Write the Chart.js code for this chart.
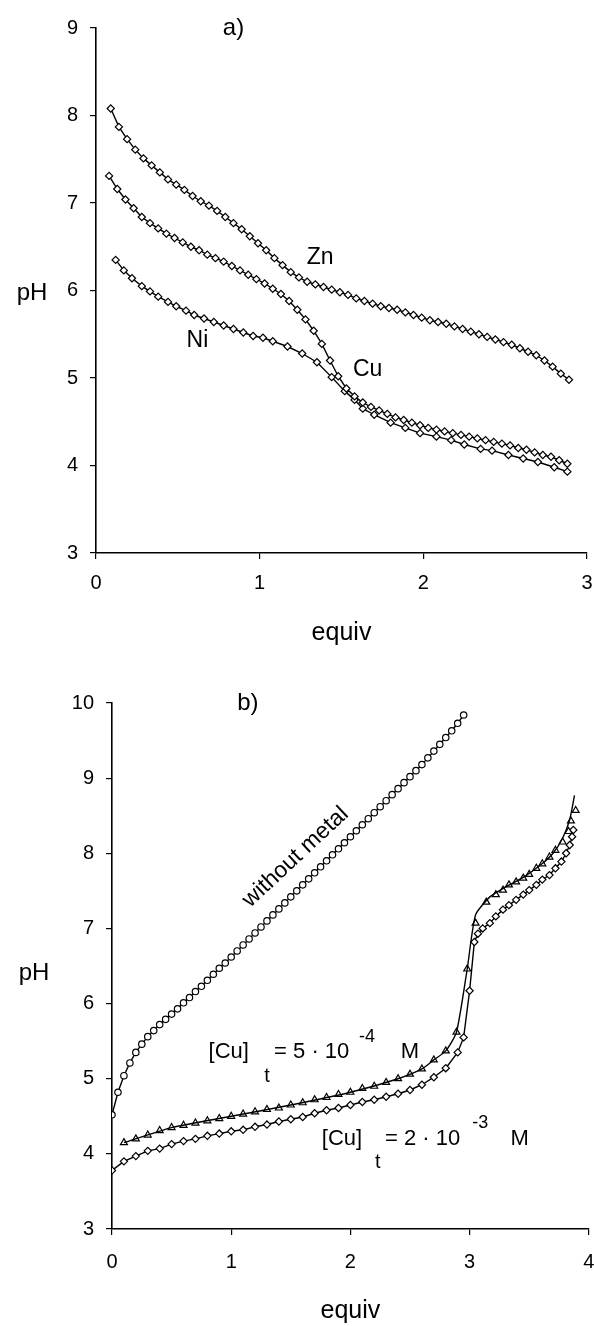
<!DOCTYPE html>
<html>
<head>
<meta charset="utf-8">
<script src="https://cdn.jsdelivr.net/npm/chart.js@4.4.1/dist/chart.umd.min.js"></script>
<style>
  html, body { margin: 0; padding: 0; background: #fff; }
  #page { position: relative; width: 594px; height: 1326px; }
  .panel { position: absolute; left: 0; width: 594px; }
  #panelA { top: 0; height: 660px; }
  #panelB { top: 660px; height: 666px; }
</style>
</head>
<body>
<div id="page">
  <div class="panel" id="panelA"><canvas id="chartA"></canvas></div>
  <div class="panel" id="panelB"><canvas id="chartB"></canvas></div>
</div>
<script>
/* pH titration curves: a) M(II) complexes, b) Cu(II) at two concentrations */
const FONT = '"Liberation Sans", Arial, Helvetica, sans-serif';

// ---- panel a ----
const A_X_TICKS = [0, 1, 2, 3];
const A_Y_TICKS = [3, 4, 5, 6, 7, 8, 9];

const EQ_ZN = [0.09, 0.14, 0.19, 0.24, 0.29, 0.34, 0.39, 0.44, 0.49, 0.54, 0.59, 0.64, 0.69, 0.74, 0.79,
  0.84, 0.89, 0.94, 0.99, 1.04, 1.09, 1.14, 1.19, 1.24, 1.29, 1.34, 1.39, 1.44, 1.49, 1.54, 1.59, 1.64,
  1.69, 1.74, 1.79, 1.84, 1.89, 1.94, 1.99, 2.04, 2.09, 2.14, 2.19, 2.24, 2.29, 2.34, 2.39, 2.44, 2.49,
  2.54, 2.59, 2.64, 2.69, 2.74, 2.79, 2.84, 2.89];
const PH_ZN = [8.08, 7.87, 7.73, 7.61, 7.51, 7.43, 7.35, 7.27, 7.21, 7.15, 7.08, 7.02, 6.97, 6.91, 6.84,
  6.77, 6.70, 6.62, 6.54, 6.46, 6.37, 6.29, 6.21, 6.15, 6.10, 6.07, 6.04, 6.01, 5.98, 5.95, 5.91, 5.88,
  5.85, 5.82, 5.80, 5.78, 5.75, 5.72, 5.69, 5.66, 5.64, 5.62, 5.59, 5.56, 5.53, 5.50, 5.47, 5.44, 5.41,
  5.38, 5.34, 5.30, 5.26, 5.20, 5.13, 5.05, 4.98];

const EQ_CU = [0.08, 0.13, 0.18, 0.23, 0.28, 0.33, 0.38, 0.43, 0.48, 0.53, 0.58, 0.63, 0.68, 0.73, 0.78,
  0.83, 0.88, 0.93, 0.98, 1.03, 1.08, 1.13, 1.18, 1.23, 1.28, 1.33, 1.38, 1.43, 1.48, 1.53, 1.58, 1.63,
  1.68, 1.73, 1.78, 1.83, 1.88, 1.93, 1.98, 2.03, 2.08, 2.13, 2.18, 2.23, 2.28, 2.33, 2.38, 2.43, 2.48,
  2.53, 2.58, 2.63, 2.68, 2.73, 2.78, 2.83, 2.88];
const PH_CU = [7.31, 7.16, 7.04, 6.94, 6.84, 6.77, 6.71, 6.65, 6.60, 6.55, 6.50, 6.46, 6.41, 6.37, 6.33,
  6.28, 6.23, 6.18, 6.13, 6.08, 6.02, 5.96, 5.88, 5.78, 5.67, 5.54, 5.39, 5.20, 5.02, 4.88, 4.79, 4.72,
  4.67, 4.63, 4.59, 4.55, 4.52, 4.49, 4.46, 4.43, 4.41, 4.39, 4.37, 4.35, 4.33, 4.31, 4.29, 4.27, 4.25,
  4.23, 4.20, 4.18, 4.15, 4.12, 4.10, 4.06, 4.02];

const EQ_NI = [0.12, 0.17, 0.22, 0.28, 0.33, 0.38, 0.44, 0.49, 0.55, 0.60, 0.66, 0.72, 0.78, 0.84, 0.90,
  0.96, 1.02, 1.08, 1.17, 1.26, 1.35, 1.44, 1.52, 1.58, 1.63, 1.70, 1.80, 1.89, 1.98, 2.08, 2.17, 2.25,
  2.35, 2.42, 2.52, 2.61, 2.70, 2.80, 2.88];
const PH_NI = [6.35, 6.23, 6.14, 6.05, 5.99, 5.93, 5.87, 5.82, 5.77, 5.72, 5.68, 5.64, 5.60, 5.56, 5.52,
  5.48, 5.46, 5.42, 5.36, 5.28, 5.18, 5.01, 4.85, 4.75, 4.65, 4.58, 4.49, 4.43, 4.37, 4.33, 4.29, 4.24,
  4.19, 4.17, 4.12, 4.08, 4.04, 3.98, 3.93];

// ---- panel b ----
const B_X_TICKS = [0, 1, 2, 3, 4];
const B_Y_TICKS = [3, 4, 5, 6, 7, 8, 9, 10];

const EQ_FREE = [0, 0.05, 0.1, 0.15, 0.2, 0.25, 0.3, 0.35, 0.4, 0.45, 0.5, 0.55, 0.6, 0.65, 0.7, 0.75,
  0.8, 0.85, 0.9, 0.95, 1.0, 1.05, 1.1, 1.15, 1.2, 1.25, 1.3, 1.35, 1.4, 1.45, 1.5, 1.55, 1.6, 1.65, 1.7,
  1.75, 1.8, 1.85, 1.9, 1.95, 2.0, 2.05, 2.1, 2.15, 2.2, 2.25, 2.3, 2.35, 2.4, 2.45, 2.5, 2.55, 2.6, 2.65,
  2.7, 2.75, 2.8, 2.85, 2.9, 2.95];
const PH_FREE = [4.52, 4.82, 5.04, 5.21, 5.35, 5.46, 5.56, 5.64, 5.72, 5.79, 5.86, 5.93, 6.01, 6.08, 6.16,
  6.23, 6.31, 6.39, 6.47, 6.54, 6.62, 6.70, 6.78, 6.86, 6.94, 7.02, 7.10, 7.18, 7.26, 7.34, 7.42, 7.50,
  7.58, 7.66, 7.74, 7.82, 7.90, 7.98, 8.06, 8.14, 8.22, 8.30, 8.38, 8.46, 8.54, 8.62, 8.70, 8.78, 8.86,
  8.94, 9.02, 9.10, 9.18, 9.27, 9.36, 9.45, 9.54, 9.63, 9.73, 9.84];

// [Cu]t = 5e-4 M, triangles
const EQ_CU5 = [0.1, 0.2, 0.3, 0.4, 0.5, 0.6, 0.7, 0.8, 0.9, 1.0, 1.1, 1.2, 1.3, 1.4, 1.5, 1.6, 1.7, 1.8,
  1.9, 2.0, 2.1, 2.2, 2.3, 2.4, 2.5, 2.6, 2.7, 2.8, 2.89, 2.98, 3.05, 3.14, 3.22, 3.28, 3.33, 3.39, 3.45,
  3.50, 3.56, 3.61, 3.67, 3.72, 3.78, 3.83, 3.85, 3.89];
const PH_CU5 = [4.15, 4.20, 4.25, 4.31, 4.35, 4.38, 4.41, 4.44, 4.47, 4.50, 4.53, 4.56, 4.59, 4.61, 4.65,
  4.68, 4.72, 4.75, 4.79, 4.82, 4.87, 4.90, 4.95, 5.00, 5.06, 5.13, 5.25, 5.37, 5.62, 6.46, 7.07, 7.35,
  7.45, 7.51, 7.58, 7.62, 7.67, 7.72, 7.80, 7.86, 7.95, 8.04, 8.15, 8.29, 8.43, 8.57];
// fitted curve through the triangles
const EQ_CU5_FIT = [0.1, 0.5, 1.0, 1.5, 2.0, 2.4, 2.6, 2.7, 2.8, 2.89, 2.98, 3.05, 3.17, 3.3, 3.45, 3.6,
  3.7, 3.78, 3.84, 3.88];
const PH_CU5_FIT = [4.15, 4.35, 4.50, 4.65, 4.82, 5.00, 5.13, 5.25, 5.37, 5.62, 6.46, 7.18, 7.42, 7.55,
  7.68, 7.85, 8.00, 8.20, 8.45, 8.77];

// [Cu]t = 2e-3 M, diamonds
const EQ_CU2 = [0, 0.1, 0.2, 0.3, 0.4, 0.5, 0.6, 0.7, 0.8, 0.9, 1.0, 1.1, 1.2, 1.3, 1.4, 1.5, 1.6, 1.7,
  1.8, 1.9, 2.0, 2.1, 2.2, 2.3, 2.4, 2.5, 2.6, 2.7, 2.8, 2.9, 2.95, 3.0, 3.04, 3.07, 3.11, 3.17, 3.22,
  3.28, 3.33, 3.39, 3.45, 3.50, 3.56, 3.61, 3.67, 3.72, 3.77, 3.81, 3.84, 3.86, 3.87];
const PH_CU2 = [3.78, 3.90, 3.97, 4.04, 4.07, 4.13, 4.17, 4.20, 4.24, 4.27, 4.30, 4.32, 4.36, 4.39, 4.43,
  4.46, 4.49, 4.54, 4.58, 4.61, 4.65, 4.69, 4.72, 4.76, 4.80, 4.85, 4.92, 5.02, 5.14, 5.35, 5.55, 6.17,
  6.82, 6.93, 7.00, 7.07, 7.16, 7.25, 7.31, 7.38, 7.45, 7.51, 7.58, 7.65, 7.71, 7.80, 7.89, 8.00, 8.11,
  8.22, 8.31];

function pts(xs, ys) {
  return xs.map((x, i) => ({ x, y: ys[i] }));
}

function markerSet(xs, ys, style, radius) {
  return {
    data: pts(xs, ys),
    showLine: true,
    borderColor: "#000",
    borderWidth: 1.4,
    backgroundColor: "#fff",
    pointStyle: style,
    pointRadius: radius,
    pointBorderWidth: 1.2,
    pointBorderColor: "#000",
    pointBackgroundColor: "#fff",
    tension: 0,
  };
}

function lineSet(xs, ys) {
  return {
    data: pts(xs, ys),
    showLine: true,
    borderColor: "#000",
    borderWidth: 1.4,
    pointRadius: 0,
    tension: 0.2,
  };
}

// text labels placed at data coordinates
const textLabels = {
  id: "textLabels",
  afterDatasetsDraw(chart, args, opts) {
    const { ctx, scales } = chart;
    ctx.save();
    ctx.fillStyle = "#000";
    for (const t of opts.items || []) {
      const px = scales.x.getPixelForValue(t.x);
      const py = scales.y.getPixelForValue(t.y);
      ctx.font = `${t.size || 22}px ${FONT}`;
      ctx.textAlign = t.align || "center";
      ctx.textBaseline = "middle";
      ctx.translate(px, py);
      ctx.rotate(((t.angle || 0) * Math.PI) / 180);
      ctx.fillText(t.text, 0, 0);
      ctx.setTransform(1, 0, 0, 1, 0, 0);
    }
    // "pH" beside the y axis
    if (opts.yTitle) {
      ctx.font = `24px ${FONT}`;
      ctx.textAlign = "center";
      ctx.fillText("pH", opts.yTitle.left, scales.y.getPixelForValue(opts.yTitle.at));
    }
    ctx.restore();
  },
};

function makeChart(id, cfg) {
  return new Chart(document.getElementById(id), {
    type: "scatter",
    data: { datasets: cfg.datasets },
    plugins: [textLabels],
    options: {
      responsive: true,
      maintainAspectRatio: false,
      animation: false,
      events: [],
      layout: { padding: { top: cfg.top, right: cfg.right, left: 0, bottom: 0 } },
      plugins: {
        legend: { display: false },
        tooltip: { enabled: false },
        textLabels: { items: cfg.labels, yTitle: cfg.yTitle },
      },
      scales: {
        x: {
          type: "linear",
          min: cfg.xTicks[0],
          max: cfg.xTicks[cfg.xTicks.length - 1],
          afterBuildTicks: (s) => { s.ticks = cfg.xTicks.map((v) => ({ value: v })); },
          afterFit: (s) => { s.height = cfg.xHeight; s.paddingLeft = 0; s.paddingRight = 0; },
          border: { display: true, color: "#000", width: 1.6 },
          grid: { drawOnChartArea: false, drawTicks: true, tickLength: 6, color: "#000", lineWidth: 1.2 },
          ticks: { color: "#000", padding: cfg.xPad, maxRotation: 0, font: { family: FONT, size: 20 } },
          title: {
            display: true,
            text: "equiv",
            color: "#000",
            font: { family: FONT, size: 25 },
            padding: { top: 0, bottom: cfg.titlePad },
          },
        },
        y: {
          type: "linear",
          min: cfg.yTicks[0],
          max: cfg.yTicks[cfg.yTicks.length - 1],
          afterBuildTicks: (s) => { s.ticks = cfg.yTicks.map((v) => ({ value: v })); },
          afterFit: (s) => { s.width = cfg.yWidth; s.paddingTop = 0; s.paddingBottom = 0; },
          border: { display: true, color: "#000", width: 1.6 },
          grid: { drawOnChartArea: false, drawTicks: true, tickLength: 6, color: "#000", lineWidth: 1.2 },
          ticks: { color: "#000", padding: 12, font: { family: FONT, size: 20 } },
        },
      },
    },
  });
}

makeChart("chartA", {
  top: 28,
  right: 7,
  yWidth: 96,
  xHeight: 107,
  xPad: 12,
  titlePad: 12,
  xTicks: A_X_TICKS,
  yTicks: A_Y_TICKS,
  yTitle: { left: 32, at: 5.97 },
  datasets: [
    markerSet(EQ_ZN, PH_ZN, "rectRot", 3.6),
    markerSet(EQ_CU, PH_CU, "rectRot", 3.6),
    markerSet(EQ_NI, PH_NI, "rectRot", 3.6),
  ],
  labels: [
    { text: "a)", x: 0.84, y: 9.0, size: 24 },
    { text: "Zn", x: 1.37, y: 6.38, size: 23 },
    { text: "Ni", x: 0.62, y: 5.43, size: 23 },
    { text: "Cu", x: 1.66, y: 5.1, size: 23 },
  ],
});

makeChart("chartB", {
  top: 43,
  right: 1,
  yWidth: 112,
  xHeight: 97,
  xPad: 15,
  titlePad: 0,
  xTicks: B_X_TICKS,
  yTicks: B_Y_TICKS,
  yTitle: { left: 34, at: 6.4 },
  datasets: [
    markerSet(EQ_FREE, PH_FREE, "circle", 3.2),
    lineSet(EQ_CU5_FIT, PH_CU5_FIT),
    Object.assign(markerSet(EQ_CU5, PH_CU5, "triangle", 4), { showLine: false }),
    markerSet(EQ_CU2, PH_CU2, "rectRot", 3.6),
  ],
  labels: [
    { text: "b)", x: 1.14, y: 10.0, size: 24 },
    { text: "without metal", x: 1.54, y: 7.95, size: 23, angle: -43 },
    { text: "[Cu]", x: 0.81, y: 5.35, size: 22, align: "left" },
    { text: "t", x: 1.30, y: 5.03, size: 20 },
    { text: "= 5 \u00b7 10", x: 1.36, y: 5.35, size: 22, align: "left" },
    { text: "-4", x: 2.14, y: 5.56, size: 18 },
    { text: "M", x: 2.50, y: 5.35, size: 22 },
    { text: "[Cu]", x: 1.76, y: 4.20, size: 22, align: "left" },
    { text: "t", x: 2.23, y: 3.88, size: 20 },
    { text: "= 2 \u00b7 10", x: 2.29, y: 4.20, size: 22, align: "left" },
    { text: "-3", x: 3.09, y: 4.41, size: 18 },
    { text: "M", x: 3.42, y: 4.20, size: 22 },
  ],
});
</script>
</body>
</html>
